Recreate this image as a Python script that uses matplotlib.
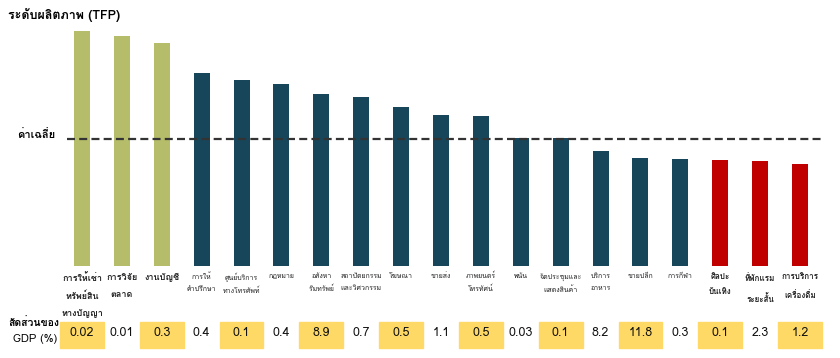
import matplotlib
matplotlib.use("Agg")
import matplotlib.pyplot as plt
from matplotlib import font_manager
from matplotlib.ft2font import FT2Font
from matplotlib.patches import Rectangle

# TFP level per sub-sector (arbitrary units) and share of GDP (%)
categories = [
    "การให้เช่า\nทรัพย์สิน\nทางปัญญา", "การวิจัย\nตลาด", "งานบัญชี",
    "การให้\nคำปรึกษา", "ศูนย์บริการ\nทางโทรศัพท์", "กฎหมาย", "อสังหา\nริมทรัพย์",
    "สถาปัตยกรรม\nและวิศวกรรม", "โฆษณา", "ขายส่ง", "ภาพยนตร์\nโทรทัศน์", "พนัน",
    "จัดประชุมและ\nแสดงสินค้า", "บริการ\nอาหาร", "ขายปลีก", "การกีฬา",
    "ศิลปะ\nบันเทิง", "ที่พักแรม\nระยะสั้น", "การบริการ\nเครื่องดื่ม",
]
tfp = [235, 230, 223, 193, 186, 182, 172, 169, 159, 151, 150, 128, 128, 115, 108, 107, 106, 105, 102]
tfp_average = 127
gdp_share = ["0.02", "0.01", "0.3", "0.4", "0.1", "0.4", "8.9", "0.7", "0.5", "1.1",
             "0.5", "0.03", "0.1", "8.2", "11.8", "0.3", "0.1", "2.3", "1.2"]
groups = ["high"] * 3 + ["mid"] * 13 + ["low"] * 3

colors = {"high": "#b5bd6a", "mid": "#17465a", "low": "#c00000"}
label_size = {"high": 6.5, "mid": 5.0, "low": 5.8}
label_weight = {"high": "bold", "mid": "normal", "low": "bold"}
label_spacing = {"high": 2.15, "mid": 2.0, "low": 2.3}

# find an installed font that has Thai glyphs
thai = None
for f in font_manager.fontManager.ttflist:
    try:
        if 0x0E01 in FT2Font(f.fname).get_charmap():
            thai = f.name
            break
    except Exception:
        pass
fam = [thai, "DejaVu Sans"] if thai else ["DejaVu Sans"]
plt.rcParams["font.family"] = fam

fig = plt.figure(figsize=(8.4, 3.58), dpi=100)
ax = fig.add_axes([0, 0, 1, 1])
step = 39.89
ax.set_xlim(-82 / step, (840 - 82) / step)
ax.set_ylim(-92, 266)
ax.axis("off")

x = list(range(len(categories)))
ax.bar(x, tfp, width=0.4, color=[colors[g] for g in groups], zorder=2)
ax.plot([-0.38, 18.6], [tfp_average, tfp_average], color="#333333", lw=1.6,
        ls=(0, (3.6, 1.9)), zorder=3)

for i, (cat, g, share) in enumerate(zip(categories, groups, gdp_share)):
    ax.text(i, -7, cat, ha="center", va="top", fontsize=label_size[g],
            fontweight=label_weight[g], linespacing=label_spacing[g], color="#222222")
    if i % 2 == 0:
        ax.add_patch(Rectangle((i - 0.55, -82), 1.1, 26, color="#ffd966", zorder=1))
    ax.text(i, -67, share, ha="center", va="center", fontsize=9, color="#111111")

ax.text(-1.85, 251, "ระดับผลิตภาพ (TFP)", ha="left", va="center", fontsize=9, fontweight="bold")
ax.text(-1.63, 131, "ค่าเฉลี่ย", ha="left", va="center", fontsize=8, fontweight="bold")
ax.text(-0.56, -57, "สัดส่วนของ", ha="right", va="center", fontsize=7.5, fontweight="bold")
ax.text(-0.62, -73, "GDP (%)", ha="right", va="center", fontsize=8)

fig.savefig("out.png", dpi=100)
